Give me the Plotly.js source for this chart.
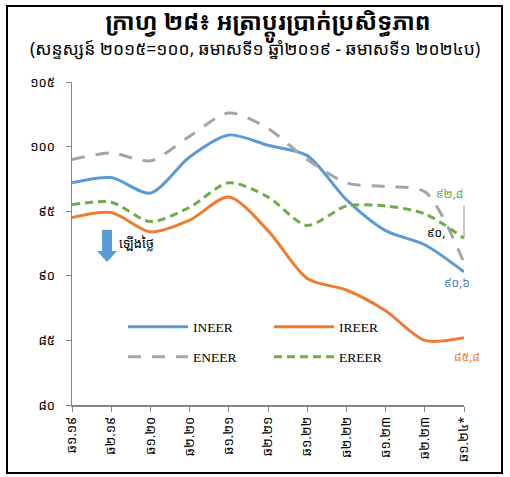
<!DOCTYPE html>
<html>
<head>
<meta charset="utf-8">
<script src="https://cdn.plot.ly/plotly-3.0.1.min.js"></script>
<style>
  body { margin: 0; background: #fff; }
  #chart { width: 510px; height: 477px; }
</style>
</head>
<body>
<div id="chart"></div>
<script>
// periods (half years)
periods = ['ឆ១.១៩', 'ឆ២.១៩', 'ឆ១.២០', 'ឆ២.២០', 'ឆ១.២១', 'ឆ២.២១',
           'ឆ១.២២', 'ឆ២.២២', 'ឆ១.២៣', 'ឆ២.២៣', 'ឆ១.២៤*'];

ineer = [97.2, 97.6, 96.4, 99.2, 100.9, 100.1, 99.3, 95.9, 93.5, 92.4, 90.3];
ireer = [94.5, 94.9, 93.4, 94.3, 96.1, 93.5, 89.8, 88.9, 87.3, 85.0, 85.2];
eneer = [99.0, 99.5, 98.9, 100.8, 102.6, 101.4, 99.0, 97.2, 96.9, 96.5, 91.0];
ereer = [95.5, 95.7, 94.2, 95.3, 97.2, 96.1, 93.9, 95.4, 95.4, 94.8, 92.9];

yTicks = [80, 85, 90, 95, 100, 105];
yTickText = ['៨០', '៨៥', '៩០', '៩៥', '១០០', '១០៥'];

endLabels = ['៩០,៦', '៨៥,៨', '៩០,', '៩២,៨'];

graphDiv = document.getElementById('chart');

var khmer = '"Noto Sans Khmer", "Khmer OS", "Noto Sans", sans-serif';

// plot box in pixels, used to place the frame, the arrow and the legends
var W = 510, H = 477;
var L = 72, R = 464, T = 82, B = 405;
function px(x) { return (x - L) / (R - L); }
function py(y) { return (B - y) / (B - T); }

function trace(name, y, color, dash, legend) {
    return {
        x: periods,
        y: y,
        name: name,
        legend: legend,
        type: 'scatter',
        mode: 'lines',
        line: {color: color, width: 3, shape: 'spline', smoothing: 0.8, dash: dash},
        hoverinfo: 'skip'
    };
}

var data = [
    trace('INEER', ineer, '#5B9BD5', 'solid', 'legend'),
    trace('IREER', ireer, '#ED7D31', 'solid', 'legend'),
    trace('ENEER', eneer, '#A5A5A5', '13px,11px', 'legend2'),
    trace('EREER', ereer, '#70AD47', '8px,5px', 'legend2')
];

var last = periods.length - 1;

var annotations = [
    {
        text: '(សន្ទស្សន៍ ២០១៥=១០០, ឆមាសទី១ ឆ្នាំ២០១៩ - ឆមាសទី១ ២០២៤ប)',
        xref: 'paper', yref: 'paper', x: px(255), y: py(48),
        xanchor: 'center', yanchor: 'middle',
        showarrow: false, font: {family: khmer, size: 17.5, color: '#000'}
    },
    {
        text: 'ឡើងថ្លៃ',
        xref: 'paper', yref: 'paper', x: px(117), y: py(243),
        xanchor: 'left', yanchor: 'middle',
        showarrow: false, font: {family: khmer, size: 13, color: '#000'}
    },
    // end values
    {x: periods[last], y: ineer[last], text: endLabels[0], showarrow: false,
     xshift: -7, yshift: -11, font: {family: khmer, size: 12, color: '#4A7EBB'}},
    {x: periods[last], y: ireer[last], text: endLabels[1], showarrow: false,
     xshift: 3, yshift: -19, font: {family: khmer, size: 12, color: '#ED7D31'}},
    {x: periods[last], y: eneer[last], text: endLabels[2], showarrow: false,
     xshift: -28, yshift: 30, font: {family: khmer, size: 12, color: '#000'}},
    {x: periods[last], y: ereer[last], text: endLabels[3], showarrow: false,
     xshift: -15, yshift: 45, font: {family: khmer, size: 12, color: '#70AD47'}},
    {x: periods[last], y: ereer[last], text: '', showarrow: true,
     ax: 0, ay: -34, arrowhead: 0, arrowwidth: 1.2, arrowcolor: '#A6A6A6', standoff: 0}
];

var shapes = [
    // outer frame
    {type: 'rect', xref: 'paper', yref: 'paper',
     x0: px(7), x1: px(502), y0: py(473), y1: py(6),
     line: {color: '#000', width: 2}},
    // blue block arrow
    {type: 'path', xref: 'paper', yref: 'paper',
     path: 'M' + px(102) + ',' + py(230) + ' L' + px(112) + ',' + py(230) +
           ' L' + px(112) + ',' + py(251) + ' L' + px(117) + ',' + py(251) +
           ' L' + px(107) + ',' + py(262) + ' L' + px(97) + ',' + py(251) +
           ' L' + px(102) + ',' + py(251) + ' Z',
     fillcolor: '#5B9BD5', line: {width: 0}}
];

function legendBox(yPix) {
    return {
        orientation: 'h',
        x: px(123), y: py(yPix), xanchor: 'left', yanchor: 'middle',
        entrywidth: 71, entrywidthmode: 'pixels',
        itemwidth: 60,
        font: {family: '"Liberation Serif", serif', size: 13.5, color: '#000'},
        bgcolor: 'rgba(0,0,0,0)'
    };
}

var layout = {
    width: W,
    height: H,
    margin: {l: L, r: W - R, t: T, b: H - B},
    paper_bgcolor: '#fff',
    plot_bgcolor: '#fff',
    title: {
        text: '<b>ក្រាហ្វ ២៨៖ អត្រាប្តូរប្រាក់ប្រសិទ្ធភាព</b>',
        font: {family: khmer, size: 23.5, color: '#000'},
        x: 0.5, xref: 'paper', xanchor: 'center',
        y: 1 - 22 / H, yref: 'container', yanchor: 'middle'
    },
    xaxis: {
        type: 'category',
        range: [0, last],
        showline: true, linecolor: '#868686', linewidth: 1.5,
        ticks: 'outside', ticklen: 5, tickcolor: '#868686',
        tickangle: -90,
        tickfont: {family: khmer, size: 13, color: '#000'},
        showgrid: false, zeroline: false, fixedrange: true
    },
    yaxis: {
        range: [80, 105],
        tickvals: yTicks, ticktext: yTickText,
        showline: true, linecolor: '#868686', linewidth: 1.5,
        ticks: 'outside', ticklen: 5, tickcolor: '#868686',
        ticklabelstandoff: 8,
        tickfont: {family: khmer, size: 13, color: '#000'},
        showgrid: false, zeroline: false, fixedrange: true
    },
    legend: legendBox(327),
    legend2: legendBox(357),
    showlegend: true,
    annotations: annotations,
    shapes: shapes
};

Plotly.newPlot(graphDiv, data, layout, {displayModeBar: false, staticPlot: true});
</script>
</body>
</html>
